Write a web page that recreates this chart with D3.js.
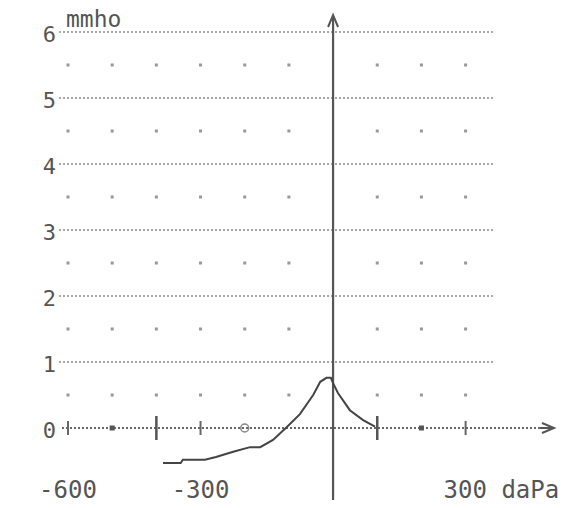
<!DOCTYPE html>
<html>
<head>
<meta charset="utf-8">
<script src="https://cdn.jsdelivr.net/npm/d3@7/dist/d3.min.js"></script>
<style>
html,body{margin:0;padding:0;background:#fff;}
svg{display:block;}
</style>
</head>
<body>
<svg id="chart" width="569" height="508"></svg>
<script>
// ---- data ----
const pressure = [-385, -345, -340, -290, -265, -226, -188, -165, -136, -104, -75, -45, -29, -15, -5, 0, 11, 38, 68, 95];
const admittance = [-0.53, -0.53, -0.48, -0.48, -0.44, -0.36, -0.29, -0.29, -0.18, 0.02, 0.21, 0.50, 0.70, 0.76, 0.76, 0.68, 0.53, 0.27, 0.12, 0.02];
const yTicks = [0, 1, 2, 3, 4, 5, 6];
const yHalf = [0.5, 1.5, 2.5, 3.5, 4.5, 5.5];
const xDots = [-600, -500, -400, -300, -200, -100, 100, 200, 300];
const xLabels = ["-600", "-300", "300 daPa"];
const xLabelValues = [-600, -300, 300];
const tallTicks = [-400, 100];
const shortTicks = [-600, -300, 300];
const dotTicks = [-500, 200];
const ringTicks = [-200];
const yUnit = "mmho";

// ---- scales ----
const x = d3.scaleLinear().domain([-600, 300]).range([68, 465.6]);
const y = d3.scaleLinear().domain([0, 6]).range([428, 32]);
const svg = d3.select("#chart");
const ink = "#555";
const grid = "#8a8a8a";
const font = "'DejaVu Sans Mono', monospace";

// horizontal dotted grid lines (1..6)
svg.append("g").selectAll("line").data(yTicks.filter(d => d > 0)).join("line")
  .attr("x1", x(-600) - 9).attr("x2", x(365))
  .attr("y1", d => y(d)).attr("y2", d => y(d))
  .attr("stroke", grid).attr("stroke-width", 1.6).attr("stroke-dasharray", "2,2");

// half-row dots
const dots = [];
yHalf.forEach(v => xDots.forEach(p => dots.push([p, v])));
svg.append("g").selectAll("rect").data(dots).join("rect")
  .attr("x", d => x(d[0]) - 1.5).attr("y", d => y(d[1]) - 1.5)
  .attr("width", 3).attr("height", 3).attr("fill", "#999");

// zero line (x axis)
svg.append("line").attr("x1", x(-600) - 6).attr("x2", 552)
  .attr("y1", y(0)).attr("y2", y(0))
  .attr("stroke", "#666").attr("stroke-width", 1.8).attr("stroke-dasharray", "2,2");
svg.append("path").attr("d", `M542,${y(0)-5} L554,${y(0)} L542,${y(0)+5} M540,${y(0)} L554,${y(0)}`)
  .attr("fill", "none").attr("stroke", "#555").attr("stroke-width", 2);

// zero-line marks
svg.append("g").selectAll("line").data(tallTicks).join("line")
  .attr("x1", d => x(d)).attr("x2", d => x(d)).attr("y1", y(0) - 12).attr("y2", y(0) + 12)
  .attr("stroke", ink).attr("stroke-width", 2.5);
svg.append("g").selectAll("line").data(shortTicks).join("line")
  .attr("x1", d => x(d)).attr("x2", d => x(d)).attr("y1", y(0) - 7).attr("y2", y(0) + 7)
  .attr("stroke", "#666").attr("stroke-width", 2);
svg.append("g").selectAll("rect").data(dotTicks).join("rect")
  .attr("x", d => x(d) - 2.5).attr("y", y(0) - 2.5).attr("width", 5).attr("height", 5).attr("fill", "#555");
svg.append("g").selectAll("circle").data(ringTicks).join("circle")
  .attr("cx", d => x(d)).attr("cy", y(0)).attr("r", 4)
  .attr("fill", "none").attr("stroke", "#888").attr("stroke-width", 1.5);

// vertical axis
svg.append("line").attr("x1", x(0)).attr("x2", x(0)).attr("y1", 16).attr("y2", 500)
  .attr("stroke", "#555").attr("stroke-width", 2.2);
svg.append("path").attr("d", `M${x(0)-5},27 L${x(0)},15 L${x(0)+5},27`)
  .attr("fill", "none").attr("stroke", "#555").attr("stroke-width", 2);

// y labels
svg.append("g").selectAll("text").data(yTicks).join("text")
  .attr("x", 56).attr("y", d => y(d) + 2)
  .attr("text-anchor", "end").attr("dominant-baseline", "central")
  .attr("font-family", font).attr("font-size", 22).attr("fill", ink)
  .text(d => d);
svg.append("text").attr("x", 66).attr("y", 27)
  .attr("font-family", font).attr("font-size", 23).attr("fill", ink).text(yUnit);

// x labels
svg.append("g").selectAll("text").data(xLabelValues).join("text")
  .attr("x", (d, i) => i === 2 ? x(d) - 22 : x(d))
  .attr("y", 498)
  .attr("text-anchor", (d, i) => i === 2 ? "start" : "middle")
  .attr("font-family", font).attr("font-size", 24).attr("fill", ink)
  .text((d, i) => xLabels[i]);

// curve
const pts = pressure.map((p, i) => [p, admittance[i]]);
svg.append("path").datum(pts)
  .attr("d", d3.line().x(d => x(d[0])).y(d => y(d[1])))
  .attr("fill", "none").attr("stroke", "#444").attr("stroke-width", 2);
</script>
</body>
</html>
